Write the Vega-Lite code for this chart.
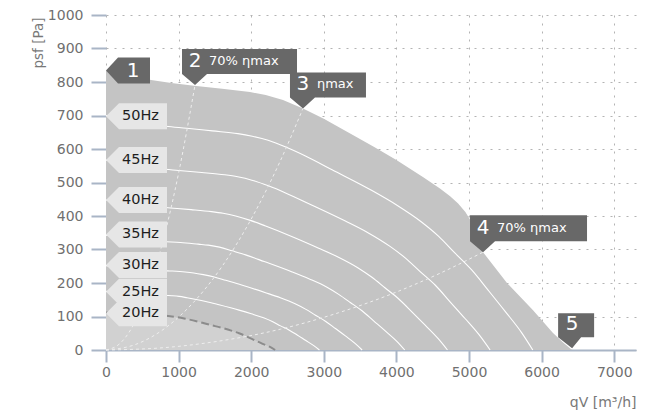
{
  "$schema": "https://vega.github.io/schema/vega-lite/v6.json",
  "width": 530,
  "height": 335,
  "autosize": {"type": "none"},
  "padding": {"left": 106, "top": 15, "right": 10, "bottom": 64},
  "background": "white",
  "config": {"font": "DejaVu Sans", "view": {"stroke": null}},
  "datasets": {
    "env": [
      {"q": 0, "p": 834}, {"q": 300, "p": 820}, {"q": 620, "p": 806}, {"q": 900, "p": 797},
      {"q": 1212, "p": 789}, {"q": 1600, "p": 780}, {"q": 1983, "p": 770}, {"q": 2200, "p": 761},
      {"q": 2438, "p": 746}, {"q": 2713, "p": 721}, {"q": 3000, "p": 690}, {"q": 3400, "p": 642},
      {"q": 3700, "p": 605}, {"q": 4000, "p": 567}, {"q": 4370, "p": 516}, {"q": 4600, "p": 482},
      {"q": 4740, "p": 459}, {"q": 4850, "p": 437}, {"q": 4950, "p": 412}, {"q": 5050, "p": 377},
      {"q": 5130, "p": 337}, {"q": 5193, "p": 292}, {"q": 5523, "p": 200}, {"q": 5882, "p": 119},
      {"q": 6157, "p": 51}, {"q": 6300, "p": 22}, {"q": 6420, "p": 0}
    ],
    "curves": [
      {"f": 50, "q": 0, "p": 700}, {"f": 50, "q": 275, "p": 688}, {"f": 50, "q": 568, "p": 676}, {"f": 50, "q": 824, "p": 668}, {"f": 50, "q": 1110, "p": 662}, {"f": 50, "q": 1465, "p": 654}, {"f": 50, "q": 1816, "p": 646}, {"f": 50, "q": 2015, "p": 638}, {"f": 50, "q": 2233, "p": 626}, {"f": 50, "q": 2485, "p": 605}, {"f": 50, "q": 2747, "p": 579}, {"f": 50, "q": 3114, "p": 538}, {"f": 50, "q": 3663, "p": 476}, {"f": 50, "q": 4002, "p": 433}, {"f": 50, "q": 4341, "p": 383}, {"f": 50, "q": 4579, "p": 340}, {"f": 50, "q": 4808, "p": 289}, {"f": 50, "q": 5037, "p": 239}, {"f": 50, "q": 5266, "p": 178}, {"f": 50, "q": 5495, "p": 116}, {"f": 50, "q": 5724, "p": 52}, {"f": 50, "q": 5879, "p": 0},
      {"f": 45, "q": 0, "p": 567}, {"f": 45, "q": 247, "p": 557}, {"f": 45, "q": 511, "p": 548}, {"f": 45, "q": 742, "p": 541}, {"f": 45, "q": 999, "p": 536}, {"f": 45, "q": 1319, "p": 530}, {"f": 45, "q": 1634, "p": 523}, {"f": 45, "q": 1813, "p": 517}, {"f": 45, "q": 2009, "p": 507}, {"f": 45, "q": 2236, "p": 490}, {"f": 45, "q": 2473, "p": 469}, {"f": 45, "q": 2802, "p": 436}, {"f": 45, "q": 3297, "p": 385}, {"f": 45, "q": 3602, "p": 351}, {"f": 45, "q": 3907, "p": 310}, {"f": 45, "q": 4121, "p": 275}, {"f": 45, "q": 4327, "p": 234}, {"f": 45, "q": 4533, "p": 194}, {"f": 45, "q": 4739, "p": 144}, {"f": 45, "q": 4945, "p": 94}, {"f": 45, "q": 5151, "p": 42}, {"f": 45, "q": 5291, "p": 0},
      {"f": 40, "q": 0, "p": 448}, {"f": 40, "q": 220, "p": 440}, {"f": 40, "q": 454, "p": 433}, {"f": 40, "q": 659, "p": 428}, {"f": 40, "q": 888, "p": 424}, {"f": 40, "q": 1172, "p": 419}, {"f": 40, "q": 1453, "p": 413}, {"f": 40, "q": 1612, "p": 408}, {"f": 40, "q": 1786, "p": 400}, {"f": 40, "q": 1988, "p": 387}, {"f": 40, "q": 2198, "p": 370}, {"f": 40, "q": 2491, "p": 345}, {"f": 40, "q": 2930, "p": 304}, {"f": 40, "q": 3202, "p": 277}, {"f": 40, "q": 3473, "p": 245}, {"f": 40, "q": 3663, "p": 217}, {"f": 40, "q": 3846, "p": 185}, {"f": 40, "q": 4029, "p": 153}, {"f": 40, "q": 4213, "p": 114}, {"f": 40, "q": 4396, "p": 74}, {"f": 40, "q": 4579, "p": 33}, {"f": 40, "q": 4703, "p": 0},
      {"f": 35, "q": 0, "p": 343}, {"f": 35, "q": 192, "p": 337}, {"f": 35, "q": 397, "p": 331}, {"f": 35, "q": 577, "p": 328}, {"f": 35, "q": 777, "p": 324}, {"f": 35, "q": 1026, "p": 321}, {"f": 35, "q": 1271, "p": 316}, {"f": 35, "q": 1410, "p": 313}, {"f": 35, "q": 1563, "p": 307}, {"f": 35, "q": 1739, "p": 296}, {"f": 35, "q": 1923, "p": 284}, {"f": 35, "q": 2179, "p": 264}, {"f": 35, "q": 2564, "p": 233}, {"f": 35, "q": 2801, "p": 212}, {"f": 35, "q": 3038, "p": 188}, {"f": 35, "q": 3205, "p": 166}, {"f": 35, "q": 3365, "p": 142}, {"f": 35, "q": 3526, "p": 117}, {"f": 35, "q": 3686, "p": 87}, {"f": 35, "q": 3846, "p": 57}, {"f": 35, "q": 4006, "p": 26}, {"f": 35, "q": 4115, "p": 0},
      {"f": 30, "q": 0, "p": 252}, {"f": 30, "q": 165, "p": 248}, {"f": 30, "q": 341, "p": 243}, {"f": 30, "q": 495, "p": 241}, {"f": 30, "q": 666, "p": 238}, {"f": 30, "q": 879, "p": 236}, {"f": 30, "q": 1090, "p": 233}, {"f": 30, "q": 1209, "p": 230}, {"f": 30, "q": 1340, "p": 225}, {"f": 30, "q": 1491, "p": 218}, {"f": 30, "q": 1649, "p": 208}, {"f": 30, "q": 1868, "p": 194}, {"f": 30, "q": 2198, "p": 171}, {"f": 30, "q": 2401, "p": 156}, {"f": 30, "q": 2605, "p": 138}, {"f": 30, "q": 2748, "p": 122}, {"f": 30, "q": 2885, "p": 104}, {"f": 30, "q": 3022, "p": 86}, {"f": 30, "q": 3160, "p": 64}, {"f": 30, "q": 3297, "p": 42}, {"f": 30, "q": 3434, "p": 19}, {"f": 30, "q": 3528, "p": 0},
      {"f": 25, "q": 0, "p": 175}, {"f": 25, "q": 137, "p": 172}, {"f": 25, "q": 284, "p": 169}, {"f": 25, "q": 412, "p": 167}, {"f": 25, "q": 555, "p": 166}, {"f": 25, "q": 733, "p": 164}, {"f": 25, "q": 908, "p": 162}, {"f": 25, "q": 1007, "p": 160}, {"f": 25, "q": 1116, "p": 156}, {"f": 25, "q": 1242, "p": 151}, {"f": 25, "q": 1374, "p": 145}, {"f": 25, "q": 1557, "p": 135}, {"f": 25, "q": 1832, "p": 119}, {"f": 25, "q": 2001, "p": 108}, {"f": 25, "q": 2170, "p": 96}, {"f": 25, "q": 2290, "p": 85}, {"f": 25, "q": 2404, "p": 72}, {"f": 25, "q": 2519, "p": 60}, {"f": 25, "q": 2633, "p": 45}, {"f": 25, "q": 2747, "p": 29}, {"f": 25, "q": 2862, "p": 13}, {"f": 25, "q": 2940, "p": 0},
      {"f": 20, "q": 0, "p": 112}, {"f": 20, "q": 110, "p": 110}, {"f": 20, "q": 227, "p": 108}, {"f": 20, "q": 330, "p": 107}, {"f": 20, "q": 444, "p": 106}, {"f": 20, "q": 586, "p": 105}, {"f": 20, "q": 726, "p": 103}, {"f": 20, "q": 882, "p": 101}, {"f": 20, "q": 1099, "p": 93}, {"f": 20, "q": 1245, "p": 86}, {"f": 20, "q": 1433, "p": 75}, {"f": 20, "q": 1601, "p": 66}, {"f": 20, "q": 1736, "p": 57}, {"f": 20, "q": 1832, "p": 50}, {"f": 20, "q": 1942, "p": 40}, {"f": 20, "q": 2050, "p": 29}, {"f": 20, "q": 2150, "p": 19}, {"f": 20, "q": 2259, "p": 9}, {"f": 20, "q": 2330, "p": 0}
    ],
    "eff": [
      {"line": "2", "q": 0, "p": 0}, {"line": "2", "q": 200, "p": 21}, {"line": "2", "q": 400, "p": 84}, {"line": "2", "q": 600, "p": 190}, {"line": "2", "q": 800, "p": 338}, {"line": "2", "q": 1000, "p": 528}, {"line": "2", "q": 1226, "p": 791},
      {"line": "3", "q": 0, "p": 0}, {"line": "3", "q": 400, "p": 16}, {"line": "3", "q": 800, "p": 63}, {"line": "3", "q": 1200, "p": 141}, {"line": "3", "q": 1600, "p": 250}, {"line": "3", "q": 2000, "p": 391}, {"line": "3", "q": 2400, "p": 564}, {"line": "3", "q": 2713, "p": 721},
      {"line": "4", "q": 0, "p": 0}, {"line": "4", "q": 800, "p": 7}, {"line": "4", "q": 1600, "p": 28}, {"line": "4", "q": 2400, "p": 62}, {"line": "4", "q": 3200, "p": 111}, {"line": "4", "q": 4000, "p": 173}, {"line": "4", "q": 4600, "p": 229}, {"line": "4", "q": 5193, "p": 292}
    ],
    "hz": [
      {"f": 50, "label": "50Hz", "q": 0, "p": 698},
      {"f": 45, "label": "45Hz", "q": 0, "p": 567},
      {"f": 40, "label": "40Hz", "q": 0, "p": 448},
      {"f": 35, "label": "35Hz", "q": 0, "p": 345},
      {"f": 30, "label": "30Hz", "q": 0, "p": 254},
      {"f": 25, "label": "25Hz", "q": 0, "p": 174},
      {"f": 20, "label": "20Hz", "q": 0, "p": 110}
    ],
    "callouts": [
      {"id": "1", "q": 0, "p": 834, "desc": ""},
      {"id": "2", "q": 1226, "p": 791, "desc": "70% ηmax"},
      {"id": "3", "q": 2713, "p": 721, "desc": "ηmax"},
      {"id": "4", "q": 5193, "p": 292, "desc": "70% ηmax"},
      {"id": "5", "q": 6420, "p": 5, "desc": ""}
    ]
  },
  "encoding": {
    "x": {
      "field": "q", "type": "quantitative",
      "scale": {"domain": [0, 7300], "nice": false, "zero": false},
      "axis": {
        "values": [0, 1000, 2000, 3000, 4000, 5000, 6000, 7000],
        "format": "d",
        "title": "qV [m³/h]",
        "grid": true, "gridDash": [2, 6], "gridColor": "#b3b3b3", "gridWidth": 1,
        "domainColor": "#a9b5c6", "domainWidth": 2,
        "tickColor": "#a9b5c6", "tickWidth": 2, "tickSize": 12,
        "labelFontSize": 14, "labelColor": "#707070", "labelPadding": 3,
        "labelFlush": false, "labelOverlap": false, "labelBound": false,
        "titleX": 530, "titleY": 52, "titleAlign": "right", "titleBaseline": "middle",
        "titleFontSize": 14, "titleColor": "#787878", "titleFontWeight": "normal"
      }
    },
    "y": {
      "field": "p", "type": "quantitative",
      "scale": {"domain": [0, 1000], "nice": false},
      "axis": {
        "values": [0, 100, 200, 300, 400, 500, 600, 700, 800, 900, 1000],
        "format": "d",
        "title": "psf [Pa]",
        "domain": false,
        "grid": true, "gridDash": [2, 6], "gridColor": "#b3b3b3", "gridWidth": 1,
        "tickColor": "#a9b5c6", "tickWidth": 2, "tickSize": 15,
        "labelFontSize": 14, "labelColor": "#707070", "labelPadding": 8,
        "labelOverlap": false, "labelBound": false, "labelFlush": false,
        "titleX": -68, "titleY": 2, "titleAngle": 270, "titleAlign": "right", "titleBaseline": "middle",
        "titleFontSize": 13.5, "titleColor": "#787878", "titleFontWeight": "normal"
      }
    }
  },
  "layer": [
    {
      "data": {"name": "env"},
      "mark": {"type": "area", "color": "#c4c4c4", "interpolate": "linear", "opacity": 1}
    },
    {
      "data": {"name": "curves"},
      "transform": [{"filter": "datum.f == 20"}],
      "mark": {"type": "area", "color": "#d1d1d1", "interpolate": "monotone", "opacity": 1}
    },
    {
      "data": {"name": "curves"},
      "transform": [{"filter": "datum.f > 20"}],
      "mark": {"type": "line", "color": "#ffffff", "strokeWidth": 1.1, "interpolate": "monotone"},
      "encoding": {"detail": {"field": "f", "type": "nominal"}}
    },
    {
      "data": {"name": "eff"},
      "mark": {"type": "line", "color": "#eeeeee", "strokeWidth": 1, "strokeDash": [3, 3], "interpolate": "monotone"},
      "encoding": {"detail": {"field": "line", "type": "nominal"}}
    },
    {
      "data": {"name": "curves"},
      "transform": [{"filter": "datum.f == 20"}],
      "mark": {"type": "line", "color": "#8c8c8c", "strokeWidth": 2, "strokeDash": [8, 4], "interpolate": "monotone"}
    },
    {
      "data": {"name": "hz"},
      "mark": {"type": "point", "shape": "M0,0L13,-13L61,-13L61,13L13,13Z", "size": 4, "filled": true, "opacity": 1, "color": "#e6e6e6", "strokeWidth": 0}
    },
    {
      "data": {"name": "hz"},
      "mark": {"type": "text", "dx": 16, "align": "left", "baseline": "middle", "fontSize": 14.5, "color": "#1e1e1e"},
      "encoding": {"text": {"field": "label", "type": "nominal"}}
    },
    {
      "data": {"name": "callouts"},
      "mark": {"type": "point", "size": 4, "filled": true, "opacity": 1, "color": "#686868", "strokeWidth": 0},
      "encoding": {
        "shape": {
          "field": "id", "type": "nominal", "legend": null,
          "scale": {
            "domain": ["1", "2", "3", "4", "5"],
            "range": [
              "M0,0L12,-13L44,-13L44,13L12,13Z",
              "M0,0L-13,-11L-13,-36L102,-36L102,-11L12,-11Z",
              "M0,0L-13,-11L-13,-36L63,-36L63,-11L12,-11Z",
              "M0,0L-13,-11L-13,-37L104,-37L104,-11L12,-11Z",
              "M0,0L-14,-11L-14,-35L22,-35L22,-11L9,-11Z"
            ]
          }
        }
      }
    },
    {
      "data": {"name": "callouts"},
      "transform": [{"filter": "datum.id == '1'"}],
      "mark": {"type": "text", "dx": 27, "dy": 0, "align": "center", "baseline": "middle", "fontSize": 20, "color": "#ffffff"},
      "encoding": {"text": {"field": "id", "type": "nominal"}}
    },
    {
      "data": {"name": "callouts"},
      "transform": [{"filter": "datum.id != '1'"}],
      "mark": {"type": "text", "dx": 0, "dy": -24, "align": "center", "baseline": "middle", "fontSize": 20, "color": "#ffffff"},
      "encoding": {"text": {"field": "id", "type": "nominal"}}
    },
    {
      "data": {"name": "callouts"},
      "transform": [{"filter": "datum.desc != ''"}],
      "mark": {"type": "text", "dx": 14, "dy": -24, "align": "left", "baseline": "middle", "fontSize": 13, "color": "#ffffff"},
      "encoding": {"text": {"field": "desc", "type": "nominal"}}
    }
  ]
}
